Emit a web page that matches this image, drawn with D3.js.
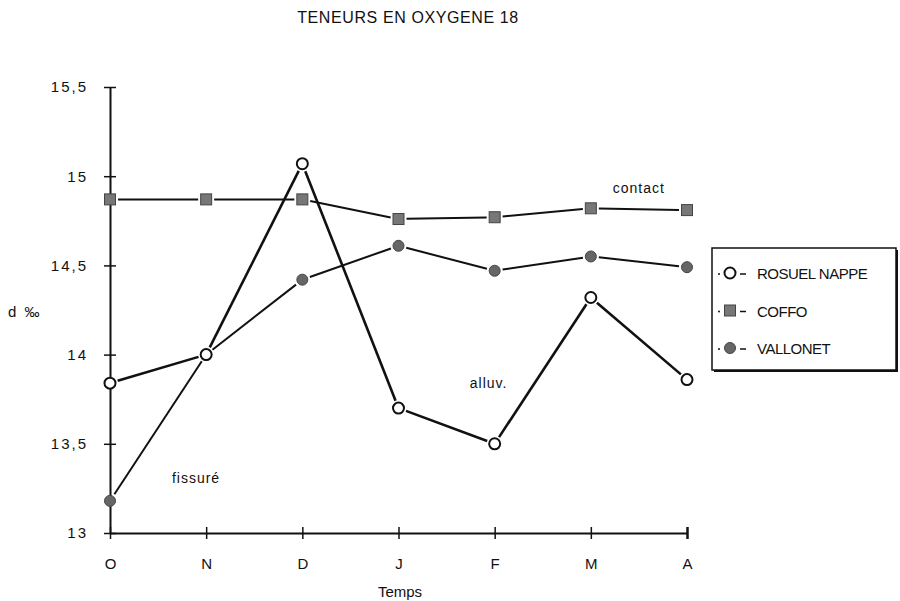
<!DOCTYPE html>
<html><head><meta charset="utf-8">
<script src="https://cdn.jsdelivr.net/npm/d3@7"></script>
<style>
body{margin:0;background:#fff;}
svg{display:block;}
text{font-family:"Liberation Sans",Arial,sans-serif;fill:#111;}
</style></head>
<body>
<svg id="c" width="900" height="601"></svg>
<script>
const months = ["O","N","D","J","F","M","A"];
const rosuel = [13.84, 14.0, 15.07, 13.70, 13.50, 14.32, 13.86];
const coffo = [14.87, 14.87, 14.87, 14.76, 14.77, 14.82, 14.81];
const vallonet = [13.18, 14.0, 14.42, 14.61, 14.47, 14.55, 14.49];
const yTicks = [13, 13.5, 14, 14.5, 15, 15.5];
const yTickLabels = ["13", "13,5", "14", "14,5", "15", "15,5"];
const seriesNames = ["ROSUEL NAPPE", "COFFO", "VALLONET"];
const annotations = [
  {text: "contact", m: "M", v: 14.905, dx: 48},
  {text: "alluv.", m: "F", v: 13.81, dx: -6},
  {text: "fissuré", m: "O", v: 13.28, dx: 86}
];

const svg = d3.select("#c");
const x = d3.scalePoint().domain(months).range([110, 687]);
const y = d3.scaleLinear().domain([13, 15.5]).range([533, 87]);

// title
svg.append("text").attr("x", 408).attr("y", 23).attr("text-anchor", "middle")
  .style("font-size", "16px").style("letter-spacing", "0.6px")
  .text("TENEURS EN OXYGENE 18");

// y axis
const ya = svg.append("g").attr("transform", "translate(110,0)")
  .call(d3.axisLeft(y).tickValues(yTicks).tickFormat((d, i) => yTickLabels[i]).tickSizeInner(5).tickSizeOuter(0).tickPadding(17));
ya.select(".domain").attr("stroke", "#111").attr("stroke-width", 2);
ya.selectAll(".tick line").attr("x1", 6).attr("x2", -6).attr("stroke", "#111").attr("stroke-width", 1.5);
ya.selectAll(".tick text").style("font-size", "15px").style("letter-spacing", "2px").attr("fill", "#111");

// x axis
const xa = svg.append("g").attr("transform", "translate(0,533)")
  .call(d3.axisBottom(x).tickSizeInner(5).tickSizeOuter(0).tickPadding(20));
xa.select(".domain").attr("stroke", "#111").attr("stroke-width", 2);
xa.selectAll(".tick line").attr("y1", -6).attr("y2", 6).attr("stroke", "#111").attr("stroke-width", 1.5);
xa.selectAll(".tick line").filter(d => d === "A").attr("stroke-width", 2.5);
xa.selectAll(".tick text").style("font-size", "15px").attr("fill", "#111");

svg.append("text").attr("x", 400).attr("y", 597).attr("text-anchor", "middle")
  .style("font-size", "15px").text("Temps");
svg.append("text").attr("x", 8).attr("y", 317)
  .style("font-size", "15px").style("word-spacing", "4px").text("d ‰");

// series
const gap = 8;
function drawLine(vals, width) {
  const pts = vals.map((v, i) => [x(months[i]), y(v)]);
  for (let i = 0; i < pts.length - 1; i++) {
    const [x1, y1] = pts[i], [x2, y2] = pts[i + 1];
    const L = Math.hypot(x2 - x1, y2 - y1);
    const ux = (x2 - x1) / L, uy = (y2 - y1) / L;
    svg.append("line")
      .attr("x1", x1 + ux * gap).attr("y1", y1 + uy * gap)
      .attr("x2", x2 - ux * gap).attr("y2", y2 - uy * gap)
      .attr("stroke", "#111").attr("stroke-width", width);
  }
}
drawLine(coffo, 2);
drawLine(vallonet, 2);
drawLine(rosuel, 2.6);

function openCircle(g, cx, cy) {
  g.append("circle").attr("cx", cx).attr("cy", cy).attr("r", 5.5)
    .attr("fill", "#fff").attr("stroke", "#111").attr("stroke-width", 2);
}
function square(g, cx, cy) {
  g.append("rect").attr("x", cx - 5.5).attr("y", cy - 5.5).attr("width", 11).attr("height", 11)
    .attr("fill", "#777").attr("stroke", "#444").attr("stroke-width", 1);
}
function dot(g, cx, cy) {
  g.append("circle").attr("cx", cx).attr("cy", cy).attr("r", 5.5)
    .attr("fill", "#666").attr("stroke", "#444").attr("stroke-width", 1);
}
coffo.forEach((v, i) => square(svg, x(months[i]), y(v)));
vallonet.forEach((v, i) => dot(svg, x(months[i]), y(v)));
rosuel.forEach((v, i) => openCircle(svg, x(months[i]), y(v)));

// annotations
annotations.forEach(a => {
  svg.append("text").attr("x", x(a.m) + a.dx).attr("y", y(a.v)).attr("text-anchor", "middle")
    .style("font-size", "14px").style("letter-spacing", "1px").text(a.text);
});

// legend
const lg = svg.append("g");
lg.append("rect").attr("x", 714).attr("y", 250).attr("width", 184).attr("height", 122).attr("fill", "#111");
lg.append("rect").attr("x", 712).attr("y", 248).attr("width", 184).attr("height", 122)
  .attr("fill", "#fff").attr("stroke", "#111").attr("stroke-width", 1.5);
const drawers = [openCircle, square, dot];
seriesNames.forEach((name, i) => {
  const cy = 273 + i * 37.5;
  lg.append("circle").attr("cx", 719).attr("cy", cy + 1).attr("r", 1).attr("fill", "#111");
  drawers[i](lg, 730, cy);
  lg.append("line").attr("x1", 740).attr("x2", 746).attr("y1", cy + 1).attr("y2", cy + 1).attr("stroke", "#111").attr("stroke-width", 1.5);
  lg.append("text").attr("x", 757).attr("y", cy + 6).style("font-size", "15px").style("letter-spacing", "-0.5px").text(name);
});
</script>
</body></html>
